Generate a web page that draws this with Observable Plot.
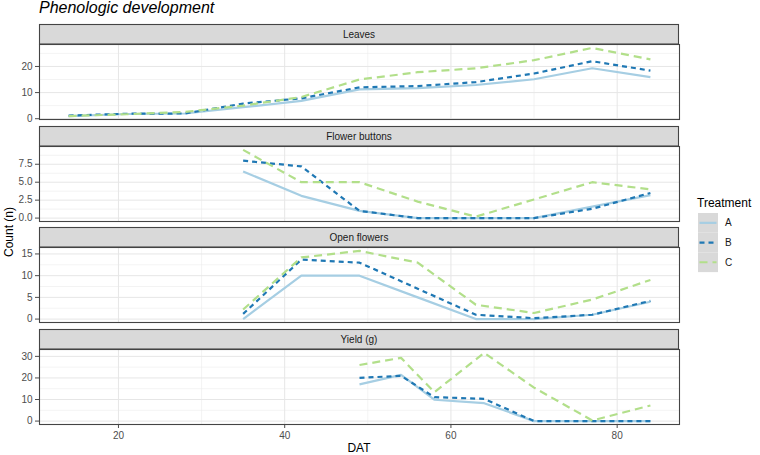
<!DOCTYPE html>
<html><head><meta charset="utf-8">
<script src="https://cdn.jsdelivr.net/npm/d3@7"></script>
<script src="https://cdn.jsdelivr.net/npm/@observablehq/plot@0.6"></script>
<style>
body{margin:0;background:#fff;font-family:"Liberation Sans",Arial,sans-serif;}
#chart{position:relative;width:760px;height:455px;overflow:hidden;background:#fff;}
#chart svg{position:absolute;left:0;overflow:visible;}
</style></head><body><div id="chart"></div>
<script>
// ---- data ----
const treatments = ["A", "B", "C"];
const colors = ["#A6CEE3", "#1F78B4", "#B2DF8A"];
const dashes = [null, "5,4", "8,5"];

const leavesDAT = [14, 21, 28, 35, 42, 49, 56, 63, 70, 77, 84];
const leavesA = [1.0, 1.8, 2.0, 4.4, 6.8, 11.2, 11.7, 12.9, 15.1, 19.3, 15.9];
const leavesB = [1.2, 1.9, 2.0, 5.8, 7.8, 12.0, 12.5, 14.0, 17.3, 22.0, 18.4];
const leavesC = [1.0, 1.7, 2.6, 5.0, 8.3, 15.0, 17.8, 19.3, 22.4, 27.1, 22.7];

const budsDAT = [35, 42, 49, 56, 63, 70, 77, 84];
const budsA = [6.5, 3.1, 1.0, 0.0, 0.0, 0.0, 1.6, 3.2];
const budsB = [8.0, 7.2, 1.0, 0.0, 0.0, 0.0, 1.3, 3.5];
const budsC = [9.5, 5.0, 5.0, 2.3, 0.2, 2.6, 5.0, 4.0];

const openDAT = [35, 42, 49, 56, 63, 70, 77, 84];
const openA = [0.0, 10.0, 10.0, 5.0, 0.0, 0.0, 1.0, 4.0];
const openB = [1.2, 13.7, 13.0, 7.0, 1.0, 0.2, 1.0, 4.2];
const openC = [2.2, 14.2, 15.7, 13.0, 3.3, 1.4, 4.5, 9.0];

const yieldDAT = [49, 54, 58, 64, 70, 77, 84];
const yieldA = [17.0, 21.4, 9.9, 8.3, 0.0, 0.0, 0.0];
const yieldB = [20.0, 21.0, 11.1, 10.3, 0.0, 0.0, 0.0];
const yieldC = [26.0, 29.3, 13.4, 31.6, 15.5, 0.3, 7.2];

const xTicks = [20, 40, 60, 80];
const xMinor = [30, 50, 70];

const panelNames = ["Leaves", "Flower buttons", "Open flowers", "Yield (g)"];
const panelTicks = [[0, 10, 20], [0, 2.5, 5, 7.5], [0, 5, 10, 15], [0, 10, 20, 30]];
const panelMinor = [[5, 15, 25], [1.25, 3.75, 6.25, 8.75], [2.5, 7.5, 12.5], [5, 15, 25]];
const panelFormats = ["d", ".1f", "d", "d"];

const panels = [
  {x: leavesDAT, s: [leavesA, leavesB, leavesC]},
  {x: budsDAT, s: [budsA, budsB, budsC]},
  {x: openDAT, s: [openA, openB, openC]},
  {x: yieldDAT, s: [yieldA, yieldB, yieldC]}
];

// ---- layout ----
const W = 760, ML = 39, MR = 81, STRIP = 20, INNER = 75;
const tops = [24, 125.7, 227.3, 329];
const chart = document.getElementById("chart");

const allX = panels.flatMap(p => p.x);
const x0 = d3.min(allX), x1 = d3.max(allX);
const xDomain = [x0 - 0.05 * (x1 - x0), x1 + 0.05 * (x1 - x0)];

panels.forEach((p, k) => {
  const last = k === panels.length - 1;
  const vals = p.s.flat();
  const lo = d3.min(vals), hi = d3.max(vals), pad = 0.05 * (hi - lo);
  const mb = last ? 30 : 1;
  const marks = [
    Plot.ruleX(xMinor, {stroke: "#EBEBEB", strokeWidth: 0.6}),
    Plot.ruleY(panelMinor[k], {stroke: "#EBEBEB", strokeWidth: 0.6}),
    Plot.ruleX(xTicks, {stroke: "#E6E6E6", strokeWidth: 1}),
    Plot.ruleY(panelTicks[k], {stroke: "#E6E6E6", strokeWidth: 1})
  ];
  p.s.forEach((ser, i) => {
    const rows = p.x.map((xv, j) => ({x: xv, y: ser[j]}));
    const opts = {x: "x", y: "y", stroke: colors[i], strokeWidth: 2.2, strokeLinecap: "butt", strokeLinejoin: "round"};
    if (dashes[i]) opts.strokeDasharray = dashes[i];
    marks.push(Plot.line(rows, opts));
  });
  marks.push(Plot.frame({stroke: "#444", strokeWidth: 1.1}));
  const svg = Plot.plot({
    width: W,
    height: STRIP + INNER + mb,
    marginLeft: ML, marginRight: MR, marginTop: STRIP, marginBottom: mb,
    style: {fontFamily: '"Liberation Sans", Arial, sans-serif', fontSize: "10px", color: "#4D4D4D", background: "transparent"},
    x: {domain: xDomain, ticks: xTicks, axis: last ? "bottom" : null, tickSize: 4, tickPadding: 3, label: null},
    y: {domain: [lo - pad, hi + pad], ticks: panelTicks[k], tickFormat: d3.format(panelFormats[k]), tickSize: 4, tickPadding: 3, label: null},
    marks
  });
  svg.style.top = tops[k] + "px";
  const g = d3.select(svg).append("g");
  g.append("rect").attr("x", ML + 0.5).attr("y", 0.5).attr("width", W - ML - MR - 1).attr("height", STRIP - 0.5)
    .attr("fill", "#D9D9D9").attr("stroke", "#444").attr("stroke-width", 1.1);
  g.append("text").attr("x", ML + (W - ML - MR) / 2).attr("y", STRIP / 2 + 0.5).attr("dy", "0.35em")
    .attr("text-anchor", "middle").attr("font-size", "10px").attr("fill", "#1A1A1A").text(panelNames[k]);
  chart.appendChild(svg);
});

// ---- titles, axis labels, legend ----
const ov = d3.select(chart).append("svg").attr("width", W).attr("height", 455).style("top", "0px")
  .style("font-family", '"Liberation Sans", Arial, sans-serif');
ov.append("text").attr("x", 39).attr("y", 13).attr("font-size", "16px").attr("font-style", "italic")
  .attr("fill", "#000").text("Phenologic development");
ov.append("text").attr("transform", "translate(13,232) rotate(-90)").attr("text-anchor", "middle")
  .attr("font-size", "12px").attr("fill", "#000").text("Count (n)");
ov.append("text").attr("x", ML + (W - ML - MR) / 2).attr("y", 452).attr("text-anchor", "middle")
  .attr("font-size", "12px").attr("fill", "#000").text("DAT");
ov.append("text").attr("x", 697).attr("y", 207).attr("font-size", "12px").attr("fill", "#000").text("Treatment");
const keyTop = 213, keyH = 19.7;
treatments.forEach((t, i) => {
  const y = keyTop + i * keyH;
  ov.append("rect").attr("x", 698).attr("y", y).attr("width", 20).attr("height", keyH).attr("fill", "#D9D9D9");
  const ln = ov.append("line").attr("x1", 699.5).attr("x2", 716.5).attr("y1", y + keyH / 2).attr("y2", y + keyH / 2)
    .attr("stroke", colors[i]).attr("stroke-width", 2.2);
  if (dashes[i]) ln.attr("stroke-dasharray", dashes[i]);
  ov.append("text").attr("x", 725).attr("y", y + keyH / 2).attr("dy", "0.35em").attr("font-size", "10px")
    .attr("fill", "#1A1A1A").text(t);
});
</script></body></html>
